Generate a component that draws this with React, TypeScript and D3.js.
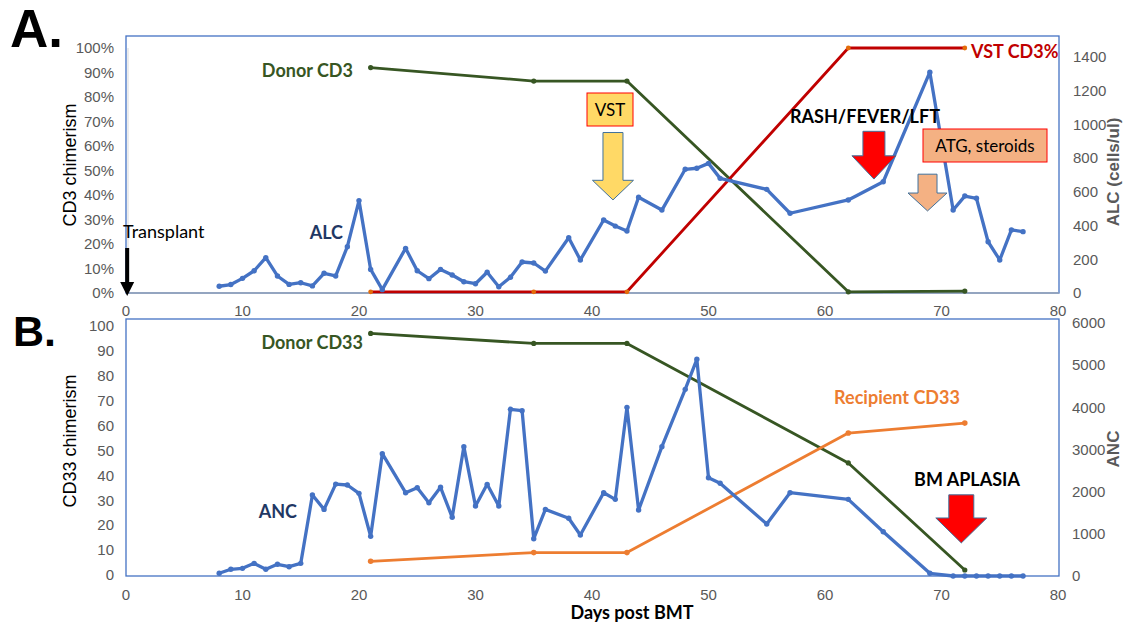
import React from "react";
import * as d3 from "d3";

// ---------- Data ----------
const alcDays = [8, 9, 10, 11, 12, 13, 14, 15, 16, 17, 18, 19, 20, 21, 22, 24, 25, 26, 27, 28, 29, 30, 31, 32, 33, 34, 35, 36, 38, 39, 41, 42, 43, 44, 46, 48, 49, 50, 51, 55, 57, 62, 65, 69, 71, 72, 73, 74, 75, 76, 77];
const alcValues = [40, 50, 87, 132, 210, 101, 51, 61, 42, 117, 101, 275, 548, 140, 20, 265, 132, 85, 140, 107, 67, 55, 123, 37, 93, 184, 178, 130, 328, 196, 433, 397, 368, 568, 492, 734, 740, 769, 680, 615, 473, 552, 660, 1310, 492, 575, 562, 304, 196, 374, 364];

const cd3Days = [21, 35, 43, 62, 72];
const donorCD3 = [92, 86.5, 86.5, 0.5, 0.8];
const vstCD3 = [0.5, 0.5, 0.5, 100, 100];

const ancDays = [8, 9, 10, 11, 12, 13, 14, 15, 16, 17, 18, 19, 20, 21, 22, 24, 25, 26, 27, 28, 29, 30, 31, 32, 33, 34, 35, 36, 38, 39, 41, 42, 43, 44, 46, 48, 49, 50, 51, 55, 57, 62, 65, 69, 71, 72, 73, 74, 75, 76, 77];
const ancValues = [64, 159, 182, 300, 159, 277, 221, 300, 1920, 1580, 2180, 2158, 1960, 940, 2900, 1975, 2094, 1738, 2103, 1392, 3067, 1660, 2174, 1660, 3953, 3920, 885, 1580, 1368, 972, 1975, 1818, 4000, 1565, 3067, 4427, 5139, 2331, 2198, 1233, 1975, 1818, 1050, 64, 0, 0, 0, 0, 0, 0, 0];

const cd33Days = [21, 35, 43, 62, 72];
const donorCD33 = [97, 93, 93, 45, 2];
const recipientCD33 = [5.5, 9, 9, 57, 61];

const xTicks = [0, 10, 20, 30, 40, 50, 60, 70, 80];
const pctTicks = [0, 10, 20, 30, 40, 50, 60, 70, 80, 90, 100];
const alcTicks = [0, 200, 400, 600, 800, 1000, 1200, 1400];
const cd33Ticks = [0, 10, 20, 30, 40, 50, 60, 70, 80, 90, 100];
const ancTicks = [0, 1000, 2000, 3000, 4000, 5000, 6000];

// ---------- Styles ----------
const BLUE = "#4472c4";
const GREEN = "#375623";
const RED = "#c00000";
const ORANGE = "#ed7d31";
const NAVY = "#1f3864";
const GRAY = "#595959";
const TICK_FONT = "'Liberation Sans', Arial, sans-serif";
const LABEL_FONT = "Lato, 'Open Sans', sans-serif";

const W = 1126;
const H = 624;

const x = d3.scaleLinear().domain([0, 80]).range([126, 1058]);
// top panel
const yA = d3.scaleLinear().domain([0, 100]).range([293, 48]);
const yAR = d3.scaleLinear().domain([0, 1400]).range([293, 57]);
// bottom panel
const yB = d3.scaleLinear().domain([0, 100]).range([575, 326]);
const yBR = d3.scaleLinear().domain([0, 6000]).range([576, 323]);

function Series({ days, values, ys, color, width, dot, dotColor }: any) {
  const pts: [number, number][] = days.map((d: number, i: number) => [x(d), ys(values[i])]);
  const line = d3.line().curve(d3.curveLinear)(pts) || "";
  return (
    <g>
      <path d={line} fill="none" stroke={color} strokeWidth={width} strokeLinejoin="round" strokeLinecap="round" />
      {pts.map((p, i) => (
        <circle key={i} cx={p[0]} cy={p[1]} r={dot} fill={dotColor || color} />
      ))}
    </g>
  );
}

// block arrow pointing down, defined in data coordinates
function BlockArrow({ day, top, shaftBottom, tip, shaftW, headW, ys, fill }: any) {
  const cx = x(day);
  const t = ys(top);
  const sb = ys(shaftBottom);
  const tp = ys(tip);
  const p = d3.path();
  p.moveTo(cx - shaftW / 2, t);
  p.lineTo(cx + shaftW / 2, t);
  p.lineTo(cx + shaftW / 2, sb);
  p.lineTo(cx + headW / 2, sb);
  p.lineTo(cx, tp);
  p.lineTo(cx - headW / 2, sb);
  p.lineTo(cx - shaftW / 2, sb);
  p.closePath();
  return <path d={p.toString()} fill={fill} stroke="#41719c" strokeWidth={1} />;
}

export default function App() {
  return (
    <svg width={W} height={H} style={{ position: "absolute", left: 0, top: 0, background: "#fff" }} fontFamily={TICK_FONT}>
      <rect x={0} y={0} width={W} height={H} fill="#fff" />

      {/* Panel letters */}
      <text x={10} y={47} fontSize={53} fontWeight={700} fontFamily={TICK_FONT} fill="#000">A.</text>
      <text x={13} y={346} fontSize={43} fontWeight={700} fontFamily={TICK_FONT} fill="#000">B.</text>

      {/* ===== Panel A ===== */}
      <rect x={126} y={36} width={933} height={257} fill="none" stroke={BLUE} strokeWidth={1.3} />
      <line x1={128} x2={128} y1={yA(100)} y2={yA(0)} stroke="#d9d9d9" strokeWidth={1} />
      <line x1={126} x2={1059} y1={yA(0)} y2={yA(0)} stroke="#9aa6b8" strokeWidth={1.3} />
      {pctTicks.map((t) => (
        <text key={t} x={114} y={yA(t)} dy="0.35em" textAnchor="end" fontSize={15} fill={GRAY}>{t}%</text>
      ))}
      {alcTicks.map((t) => (
        <text key={t} x={1073} y={yAR(t)} dy="0.35em" textAnchor="start" fontSize={15} fill={GRAY}>{t}</text>
      ))}
      {xTicks.map((t) => (
        <text key={t} x={x(t)} y={311} dy="0.35em" textAnchor="middle" fontSize={15} fill={GRAY}>{t}</text>
      ))}
      <text transform={`translate(76,165) rotate(-90)`} textAnchor="middle" fontSize={18} fill="#000">CD3 chimerism</text>
      <text transform={`translate(1119,172) rotate(-90)`} textAnchor="middle" fontSize={17} fontWeight={700} fill={GRAY}>ALC (cells/ul)</text>

      <Series days={cd3Days} values={donorCD3} ys={yA} color={GREEN} width={2.8} dot={2.6} />
      <Series days={cd3Days} values={vstCD3} ys={yA} color={RED} width={2.8} dot={2.4} dotColor="#e46c0a" />
      <Series days={alcDays} values={alcValues} ys={yAR} color={BLUE} width={3.3} dot={2.7} />

      {/* Transplant arrow */}
      <line x1={x(0.1)} x2={x(0.1)} y1={248} y2={284} stroke="#000" strokeWidth={4} />
      <path d={`M${x(0.1) - 7},${282} L${x(0.1) + 7},${282} L${x(0.1)},${296} Z`} fill="#000" />
      <text x={123} y={232} dy="0.35em" fontSize={18} fontFamily={LABEL_FONT} fill="#000">Transplant</text>

      <text x={353} y={71} dy="0.35em" textAnchor="end" fontSize={18} fontWeight={700} fontFamily={LABEL_FONT} fill={GREEN}>Donor CD3</text>
      <text x={343} y={233} dy="0.35em" textAnchor="end" fontSize={18} fontWeight={700} fontFamily={LABEL_FONT} fill={NAVY}>ALC</text>
      <text x={971} y={52} dy="0.35em" textAnchor="start" fontSize={18} fontWeight={700} fontFamily={LABEL_FONT} fill={RED}>VST CD3%</text>
      <text x={865} y={117} dy="0.35em" textAnchor="middle" fontSize={18} fontWeight={700} fontFamily={LABEL_FONT} fill="#000">RASH/FEVER/LFT</text>

      {/* VST box & arrow */}
      <rect x={587} y={93} width={46} height={33} fill="#ffd966" stroke="#ff0000" strokeWidth={1} />
      <text x={610} y={110} dy="0.35em" textAnchor="middle" fontSize={17} fontFamily={LABEL_FONT} fill="#000">VST</text>
      <BlockArrow day={41.8} top={65.5} shaftBottom={46} tip={38} shaftW={20} headW={41} ys={yA} fill="#ffd966" />

      {/* Rash arrow */}
      <BlockArrow day={64.2} top={66} shaftBottom={56} tip={46.5} shaftW={22} headW={44} ys={yA} fill="#ff0000" />

      {/* ATG box & arrow */}
      <rect x={923} y={129} width={124} height={33} fill="#f4b183" stroke="#ff0000" strokeWidth={1} />
      <text x={985} y={146} dy="0.35em" textAnchor="middle" fontSize={17} fontFamily={LABEL_FONT} fill="#000">ATG, steroids</text>
      <BlockArrow day={68.8} top={48.5} shaftBottom={40.8} tip={33.5} shaftW={19} headW={39} ys={yA} fill="#f4b183" />

      {/* ===== Panel B ===== */}
      <rect x={126} y={319} width={933} height={257} fill="none" stroke={BLUE} strokeWidth={1.3} />
      {cd33Ticks.map((t) => (
        <text key={t} x={114} y={yB(t)} dy="0.35em" textAnchor="end" fontSize={15} fill={GRAY}>{t}</text>
      ))}
      {ancTicks.map((t) => (
        <text key={t} x={1072} y={yBR(t)} dy="0.35em" textAnchor="start" fontSize={15} fill={GRAY}>{t}</text>
      ))}
      {xTicks.map((t) => (
        <text key={t} x={x(t)} y={595} dy="0.35em" textAnchor="middle" fontSize={15} fill={GRAY}>{t}</text>
      ))}
      <text transform={`translate(76,441) rotate(-90)`} textAnchor="middle" fontSize={18} fill="#000">CD33 chimerism</text>
      <text transform={`translate(1119,449) rotate(-90)`} textAnchor="middle" fontSize={17} fontWeight={700} fill={GRAY}>ANC</text>
      <text x={632} y={613} dy="0.35em" textAnchor="middle" fontSize={18} fontWeight={700} fontFamily={LABEL_FONT} fill="#000">Days post BMT</text>

      <Series days={cd33Days} values={donorCD33} ys={yB} color={GREEN} width={2.8} dot={2.6} />
      <Series days={cd33Days} values={recipientCD33} ys={yB} color={ORANGE} width={2.8} dot={2.8} />
      <Series days={ancDays} values={ancValues} ys={yBR} color={BLUE} width={3.3} dot={2.7} />

      <text x={363} y={343} dy="0.35em" textAnchor="end" fontSize={18} fontWeight={700} fontFamily={LABEL_FONT} fill={GREEN}>Donor CD33</text>
      <text x={297} y={512} dy="0.35em" textAnchor="end" fontSize={18} fontWeight={700} fontFamily={LABEL_FONT} fill={NAVY}>ANC</text>
      <text x={897} y={398} dy="0.35em" textAnchor="middle" fontSize={18} fontWeight={700} fontFamily={LABEL_FONT} fill={ORANGE}>Recipient CD33</text>
      <text x={967} y={480} dy="0.35em" textAnchor="middle" fontSize={18} fontWeight={700} fontFamily={LABEL_FONT} fill="#000">BM APLASIA</text>
      <BlockArrow day={71.7} top={32.2} shaftBottom={22.9} tip={12.9} shaftW={25} headW={51} ys={yB} fill="#ff0000" />
    </svg>
  );
}
